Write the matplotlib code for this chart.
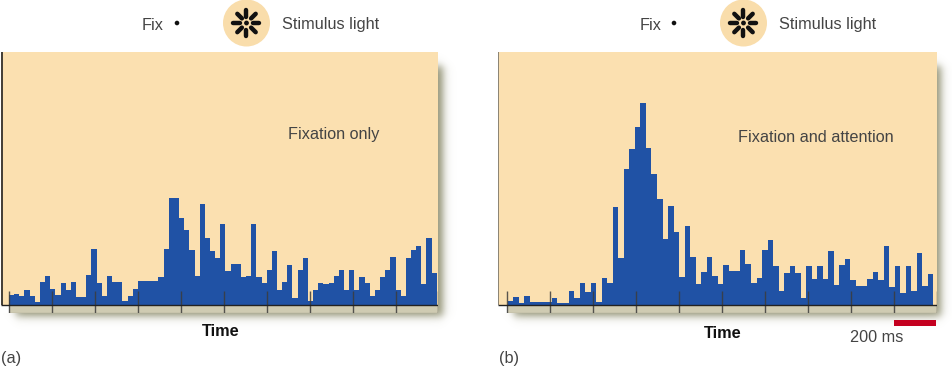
import numpy as np
import matplotlib
matplotlib.use("Agg")
import matplotlib.pyplot as plt
from matplotlib.patches import Rectangle, Circle

plt.rcParams['font.family'] = ['Liberation Sans', 'DejaVu Sans']

# firing rate per bin, arbitrary units
rate_fix = [9.3, 10.3, 8.3, 15, 8.7, 3, 22.3, 29, 16, 9.3, 21.7, 15, 22.7, 8, 8, 30, 55.7, 21.7, 9, 28.7,
            22.7, 22.7, 3.7, 9, 15.7, 23.3, 23.3, 23.3, 23.3, 28, 55.7, 106.3, 106.3, 86.7, 75, 55, 28.7, 101, 67, 53.7,
            47, 81, 33.7, 40.7, 40.7, 27.3, 28.3, 80.7, 27.7, 21.3, 35, 53.7, 15, 22.7, 39.7, 7, 34.3, 47, 3.7, 15,
            21.3, 21, 21.7, 28.3, 35, 14.3, 34.3, 14.3, 27.3, 21.3, 8.3, 14.3, 28, 34.3, 47.7, 15, 8.7, 46.7, 54.3, 58.7,
            20.3, 66.7, 32]
rate_att = [3.3, 7.3, 2, 8.7, 2.3, 2.3, 2.3, 2.3, 6.3, 2, 2, 14, 6.7, 21.7, 13, 21.3, 2.7, 26.3, 21.7, 97.7,
            46.7, 136, 156, 177.7, 201.7, 157, 130.3, 106, 66, 98.3, 72.3, 27.3, 78.3, 47.7, 20.3, 32.7, 47.7, 28.3, 20.7, 40,
            33.3, 33.3, 54.7, 41, 21.3, 26.7, 55, 64.7, 38.3, 14, 32, 38.7, 31.7, 6.7, 39, 26, 38.3, 26, 54, 20,
            39.7, 46, 25, 18.7, 18.7, 25.3, 33, 25, 59, 18, 39, 12, 39, 13.3, 51.3, 18.3, 31]
bin_fix = 24
bin_att = 25.75
tick_ms = [0, 200, 400, 600, 800, 1000, 1200, 1400, 1600, 1800, 2000]

BG = '#FBE0B0'
BLUE = '#2052A5'
STRIP = '#CFCBB2'
W, H = 953, 370

fig = plt.figure(figsize=(9.53, 3.70), dpi=100)

# soft drop shadow behind both panels
sh = fig.add_axes([0, 0, 1, 1], zorder=0)
sh.axis('off')
xx, yy = np.meshgrid(np.arange(W) + 0.5, np.arange(H) + 0.5)


def soft_box(x0, x1, y0, y1, s=5):
    ax_ = 0.25 * (1 + np.tanh((xx - x0) / s)) * (1 + np.tanh((x1 - xx) / s))
    ay_ = 0.25 * (1 + np.tanh((yy - y0) / s)) * (1 + np.tanh((y1 - yy) / s))
    return ax_ * ay_


alpha = np.maximum(soft_box(16, 443, 66, 316), soft_box(514, 941, 66, 316))
img = np.zeros((H, W, 4))
img[..., 0], img[..., 1], img[..., 2] = 0.58, 0.58, 0.46
img[..., 3] = alpha
sh.imshow(img, extent=(0, W, H, 0), aspect='auto')


def panel(left, right, zero_px, rate, width, offset, axis_color):
    # axes box given in pixels, top of the panel at y=52, strip bottom at y=312.5
    ax = fig.add_axes([left / W, 1 - 312.5 / H, (right - left) / W, 260.5 / H], zorder=1)
    ax.patch.set_alpha(0)
    ms_per_px = 2000 / (right - zero_px)
    ax.set_xlim(-(zero_px - left) * ms_per_px, 2000)
    ax.set_ylim(-8, 252.5)
    ax.axis('off')
    x0 = ax.get_xlim()[0]
    ax.add_patch(Rectangle((x0, 0), 2000 - x0, 252.5, fc=BG, ec='none', zorder=1))
    ax.add_patch(Rectangle((0, -8), 2000, 8, fc=STRIP, ec='none', zorder=1))
    # white gap left of the strip
    ax.add_patch(Rectangle((x0, -8), -x0, 8, fc='white', ec='none', zorder=1))
    ax.bar(offset + np.arange(len(rate)) * width, rate, width=width, align='edge', color=BLUE, zorder=2)
    ax.vlines(tick_ms, -8, 14, color='#3c3c3c', lw=1, alpha=0.85, zorder=3)
    ax.hlines(-8, 0, 2000, color='#555555', lw=0.8, zorder=3)
    ax.hlines(0, x0, 2000, color='#222222', lw=1, zorder=4)
    ax.vlines(x0 + 0.5 * ms_per_px, 0, 252.5, color=axis_color, lw=1.2, zorder=4)
    return ax


panel(1, 438.5, 9, rate_fix, bin_fix, 0, '#222222')
panel(498, 936.7, 507.3, rate_att, bin_att, 2, '#77736a')

# pixel overlay for labels and the stimulus icons
ov = fig.add_axes([0, 0, 1, 1], zorder=2)
ov.set_xlim(0, W)
ov.set_ylim(H, 0)
ov.axis('off')
ov.patch.set_alpha(0)

TXT = '#444444'
FS = 11.7


def header(fix_x, dot_x, icon_x, label_x):
    ov.text(fix_x, 25, 'Fix', fontsize=FS, color=TXT, va='center')
    ov.add_patch(Circle((dot_x, 23), 2.3, fc='#111111', ec='none'))
    ov.add_patch(Circle((icon_x, 23), 23.5, fc='#F9DDAB', ec='none'))
    ov.add_patch(Circle((icon_x, 23), 2.4, fc='#111111', ec='none'))
    for ang in np.arange(8) * np.pi / 4:
        ov.plot([icon_x + 6.5 * np.cos(ang), icon_x + 13 * np.cos(ang)],
                [23 + 6.5 * np.sin(ang), 23 + 13 * np.sin(ang)],
                color='#111111', lw=3.2, solid_capstyle='round')
    ov.text(label_x, 25, 'Stimulus light', fontsize=FS, color=TXT, va='center')


header(142, 177, 246.5, 282)
header(640, 674, 743.5, 779)

ov.text(288, 135, 'Fixation only', fontsize=FS, color=TXT, va='center')
ov.text(738, 137, 'Fixation and attention', fontsize=FS, color=TXT, va='center')
ov.text(221, 332, 'Time', fontsize=FS, fontweight='bold', color='#111111', ha='center', va='center')
ov.text(723, 334, 'Time', fontsize=FS, fontweight='bold', color='#111111', ha='center', va='center')
ov.text(1, 359, '(a)', fontsize=FS, color=TXT, va='center')
ov.text(499, 359, '(b)', fontsize=FS, color=TXT, va='center')
ov.text(850, 338, '200 ms', fontsize=FS, color=TXT, va='center')
ov.add_patch(Rectangle((894, 320), 42.5, 6, fc='#C4001F', ec='none'))

fig.savefig('out.png', dpi=100)
